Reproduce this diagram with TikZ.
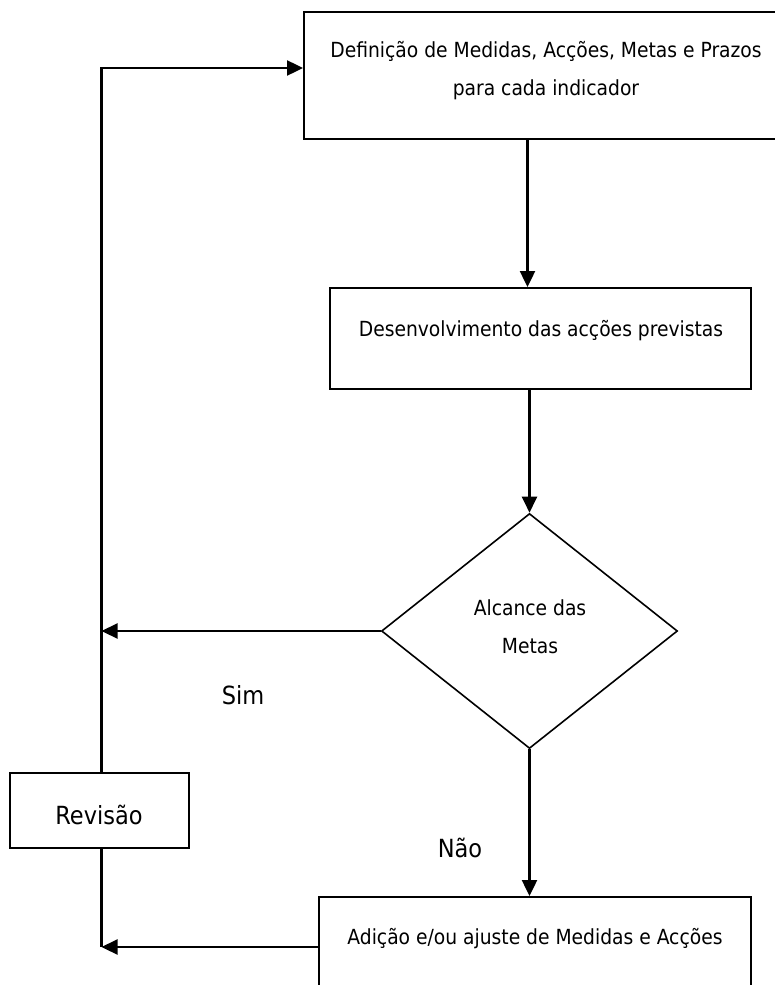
\documentclass[tikz,border=0pt]{standalone}
\usepackage{fontspec}
\setmainfont{DejaVu Sans Condensed}
\usetikzlibrary{arrows.meta,shapes.geometric}
\begin{document}
\begin{tikzpicture}[x=1pt,y=-1pt,
  box/.style={draw, line width=1.9pt, inner sep=0pt},
  txt/.style={font=\fontsize{20.8}{38}\selectfont, align=center, inner sep=0pt},
  big/.style={font=\fontsize{25}{28}\selectfont, inner sep=0pt},
  conn/.style={line width=2.2pt},
  arr/.style={conn, -{Triangle[length=16pt,width=15pt]}}]
\useasboundingbox (0,0) rectangle (775,985);
\clip (0,0) rectangle (775,985);
\node[box, minimum width=484pt, minimum height=127pt] (top) at (546,75.5) {};
\node[txt] (toptxt) at (546,71) {Definição de Medidas, Acções, Metas e Prazos\\para cada indicador};
\node[box, minimum width=421pt, minimum height=101pt] (dev) at (540.5,338.5) {};
\node[txt] (devtxt) at (541,331) {Desenvolvimento das acções previstas};
\node[draw, diamond, line width=1.6pt, minimum width=296pt, minimum height=235pt, inner sep=0pt] (dia) at (529.5,631) {};
\node[txt] (diatxt) at (530,627) {Alcance das\\Metas};
\node[box, minimum width=432pt, minimum height=106pt] (adj) at (535,950) {};
\node[txt] (adjtxt) at (535,939) {Adição e/ou ajuste de Medidas e Acções};
\node[box, minimum width=179pt, minimum height=75pt] (rev) at (99.5,810.5) {};
\node[big] (revtxt) at (99,815) {Revisão};
\node[big] (sim) at (243,695) {Sim};
\node[big] (nao) at (460,848) {Não};
\coordinate (lx) at (101.5,0);
\coordinate (ax) at (527.5,0);
\coordinate (ya) at (0,68);
\coordinate (yb) at (0,947);
\draw[arr] (top.south -| ax) -- (dev.north -| ax);
\draw[arr] (dev.south -| dia.north) -- (dia.north);
\draw[arr] (dia.south) -- (adj.north -| dia.south);
\draw[arr] (dia.west) -- (dia.west -| lx);
\draw[arr] (yb -| adj.west) -- (yb -| lx);
\draw[conn] (rev.south -| lx) -- (yb -| lx);
\draw[arr] (rev.north -| lx) -- (ya -| lx) -- (ya -| top.west);
\end{tikzpicture}
\end{document}
